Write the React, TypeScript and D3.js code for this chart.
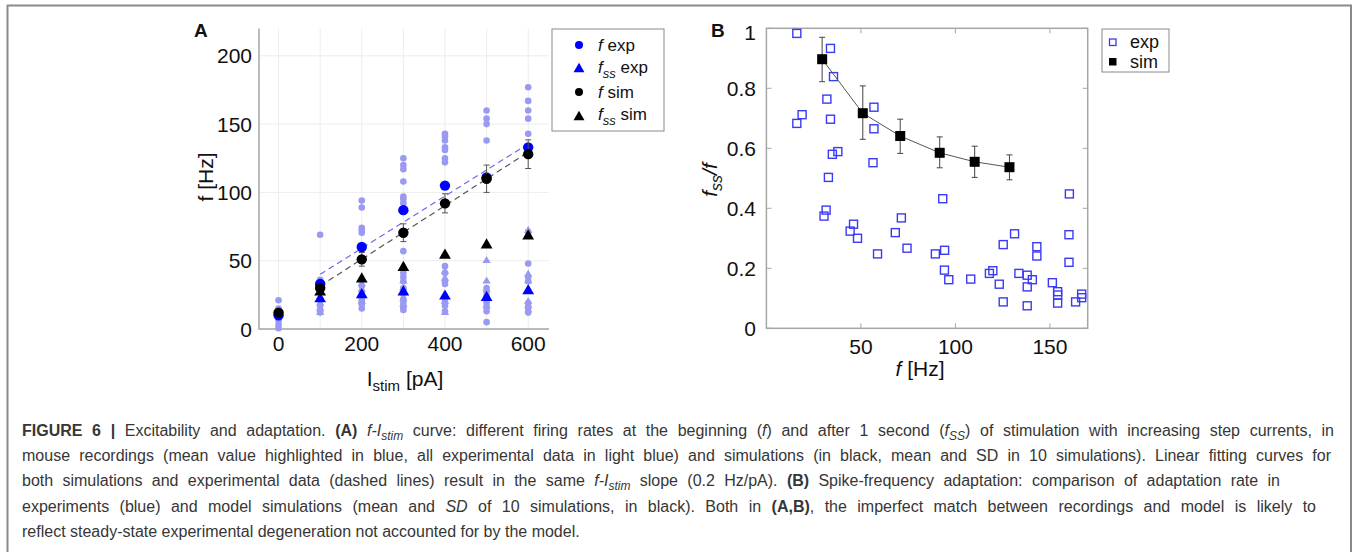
import React, { useLayoutEffect, useRef } from "react";
import * as d3 from "d3";

// ---------- Panel A data ----------
const stimLevels = [0, 100, 200, 300, 400, 500, 600];
const fExpMean = [10, 33, 60, 87, 105, 111, 133];
const fssExpMean = [null, 22, 25, 27, 24, 23, 28];
const fSimMean = [12, 30, 51, 70.5, 92, 110, 128];
const fSimSD = [1, 3, 5, 6.5, 7, 10, 10.5];
const fssSimMean = [null, 27, 36.5, 45, 54, 61.5, 68];

const fExpAll = [
  [21, 15, 9, 6, 3, 0.5],
  [69, 36, 31, 27, 22, 17, 14, 12],
  [94, 89, 74, 72.5, 70.5, 31.5, 27, 22, 20, 18, 15],
  [125, 120, 117, 108, 97, 95, 92, 57, 41, 38, 35, 30, 26, 22, 19, 16, 14],
  [143, 141, 138, 133, 131, 125, 122, 46, 41, 35, 33, 20, 17, 13],
  [160, 154, 150, 138, 30, 27, 24, 19, 16, 13, 5],
  [177, 167, 160, 154, 143, 71, 48, 38, 35, 19, 16, 13, 12],
];
const fssExpAll = [
  [],
  [19, 15, 12],
  [33, 29, 25, 20],
  [35, 30, 27, 22, 18],
  [42, 37, 20, 12],
  [50, 35, 29, 22, 17],
  [72, 40, 35, 20, 17],
];
const fitExp = { x: [100, 600], y: [40, 135.5] };
const fitSim = { x: [100, 600], y: [31.5, 129.5] };

const xGridA = [0, 100, 200, 300, 400, 500, 600];
const xTicksA = [0, 200, 400, 600];
const yTicksA = [0, 50, 100, 150, 200];

// ---------- Panel B data ----------
const expF = [16.1, 33.9, 35.5, 32, 18.9, 16.1, 33.9, 56.9, 56.9, 34.9, 37.8, 56.4, 32.8, 93.3, 160.3,
  31.6, 30.5, 46.1, 44.3, 48.2, 58.8, 68.2, 71.4, 74.4, 89.4, 94.3, 94.2, 96.5, 108.1, 118, 119.8,
  123.2, 125.3, 125.3, 131.3, 133.6, 138, 138, 138, 140.7, 143.1, 143.1, 151.3, 154.1, 154.1, 154.1,
  160.1, 160.1, 163.6, 166.8, 166.8];
const expRatio = [0.983, 0.933, 0.839, 0.764, 0.712, 0.683, 0.697, 0.737, 0.665, 0.58, 0.589, 0.552, 0.503, 0.432, 0.448,
  0.394, 0.374, 0.347, 0.324, 0.3, 0.248, 0.319, 0.368, 0.267, 0.248, 0.26, 0.194, 0.162, 0.164, 0.183, 0.192,
  0.147, 0.279, 0.088, 0.315, 0.183, 0.177, 0.138, 0.075, 0.162, 0.272, 0.241, 0.152, 0.122, 0.111, 0.084,
  0.312, 0.22, 0.088, 0.114, 0.102];
const simF = [29.5, 51, 70.8, 91.7, 110.2, 128.6];
const simRatio = [0.897, 0.717, 0.641, 0.585, 0.555, 0.537];
const simLo = [0.822, 0.63, 0.583, 0.535, 0.503, 0.495];
const simHi = [0.97, 0.808, 0.697, 0.638, 0.607, 0.578];

const xTicksB = [50, 100, 150];
const yTicksB = [0, 0.2, 0.4, 0.6, 0.8, 1];
const yTickLabelsB = ["0", "0.2", "0.4", "0.6", "0.8", "1"];

// ---------- Caption ----------
type Seg = { t: string; b?: boolean; i?: boolean; sub?: boolean };
const captionLines: Seg[][] = [
  [
    { t: "FIGURE 6 | ", b: true },
    { t: "Excitability and adaptation. " },
    { t: "(A) ", b: true },
    { t: "f-I", i: true },
    { t: "stim", i: true, sub: true },
    { t: " curve: different firing rates at the beginning (" },
    { t: "f", i: true },
    { t: ") and after 1 second (" },
    { t: "f", i: true },
    { t: "SS", i: true, sub: true },
    { t: ") of stimulation with increasing step currents, in" },
  ],
  [
    { t: "mouse recordings (mean value highlighted in blue, all experimental data in light blue) and simulations (in black, mean and SD in 10 simulations). Linear fitting curves for" },
  ],
  [
    { t: "both simulations and experimental data (dashed lines) result in the same " },
    { t: "f-I", i: true },
    { t: "stim", i: true, sub: true },
    { t: " slope (0.2 Hz/pA). " },
    { t: "(B)", b: true },
    { t: " Spike-frequency adaptation: comparison of adaptation rate in" },
  ],
  [
    { t: "experiments (blue) and model simulations (mean and " },
    { t: "SD", i: true },
    { t: " of 10 simulations, in black). Both in " },
    { t: "(A,B)", b: true },
    { t: ", the imperfect match between recordings and model is likely to" },
  ],
  [{ t: "reflect steady-state experimental degeneration not accounted for by the model." }],
];
const captionWidths = [1312, 1309, 1258, 1294, 0];
const CAP_SCALE = 1.0;

const FONT = "'Liberation Sans', Arial, Helvetica, sans-serif";
const BLUE = "#0000ff";
const LIGHT = "#9a9af2";

function CaptionLine({ segs, y, width }: { segs: Seg[]; y: number; width: number }) {
  const ref = useRef<SVGTextElement>(null);
  useLayoutEffect(() => {
    const el = ref.current;
    if (!el || !width) return;
    el.removeAttribute("word-spacing");
    const natural = el.getComputedTextLength();
    const spaces = segs.map((s) => s.t).join("").split(" ").length - 1;
    const target = width / CAP_SCALE;
    if (spaces > 0) el.setAttribute("word-spacing", String((target - natural) / spaces));
  }, [segs, width]);
  let off = 0;
  return (
    <text ref={ref} x={0} y={y} fontSize={16} fill="#363636">
      {segs.map((s, k) => {
        const target = s.sub ? 4 : 0;
        const dy = target - off;
        off = target;
        return (
          <tspan key={k} dy={dy || undefined} fontWeight={s.b ? "bold" : undefined}
            fontStyle={s.i ? "italic" : undefined} fontSize={s.sub ? 12 : undefined}>
            {s.t}
          </tspan>
        );
      })}
    </text>
  );
}

export default function App() {
  // Panel A scales
  const xA = d3.scaleLinear().domain([-47, 650]).range([259, 549]);
  const yA = d3.scaleLinear().domain([0, 220]).range([329, 28.5]);
  // Panel B scales
  const xB = d3.scaleLinear().domain([0, 170]).range([766.4, 1087.7]);
  const yB = d3.scaleLinear().domain([0, 1]).range([328.3, 28.3]);

  const triBig = d3.symbol().type(d3.symbolTriangle).size(60)()!;
  const triSmall = d3.symbol().type(d3.symbolTriangle).size(30)()!;
  const triLeg = d3.symbol().type(d3.symbolTriangle).size(52)()!;

  const simLine = d3.line<number>().x((_, i) => xB(simF[i])).y((d) => yB(d))(simRatio)!;

  const axisGray = "#a6a6a6";

  return (
    <svg width={1358} height={552} style={{ position: "absolute", left: 0, top: 0, fontFamily: FONT }}>
      <rect x={0} y={0} width={1358} height={552} fill="#fff" />
      {/* frame */}
      <path d="M7.5,560 V5.5 H1351 V560" fill="none" stroke="#8a8a8a" strokeWidth={2} />

      {/* ---------- Panel A ---------- */}
      <g>
        {xGridA.map((t) => (
          <line key={"gx" + t} x1={xA(t)} x2={xA(t)} y1={yA(0)} y2={yA(220)} stroke="#ededed" strokeWidth={1} />
        ))}
        {yTicksA.map((t) => (
          <line key={"gy" + t} x1={xA(-47)} x2={xA(650)} y1={yA(t)} y2={yA(t)} stroke="#ededed" strokeWidth={1} />
        ))}
        <path d={`M${xA(-47)},${yA(220)} V${yA(0)} H${xA(650)}`} fill="none" stroke={axisGray} strokeWidth={1.5} />
        {yTicksA.map((t) => (
          <text key={"ly" + t} x={252} y={yA(t)} dy="0.36em" textAnchor="end" fontSize={21} fill="#111">{t}</text>
        ))}
        {xTicksA.map((t) => (
          <text key={"lx" + t} x={xA(t)} y={351} textAnchor="middle" fontSize={21} fill="#111">{t}</text>
        ))}
        <text x={405} y={386} textAnchor="middle" fontSize={21} fill="#111">
          I<tspan dy={5} fontSize={15}>stim</tspan><tspan dy={-5}> [pA]</tspan>
        </text>
        <text transform="translate(213,177) rotate(-90)" textAnchor="middle" fontSize={21} fill="#111">f [Hz]</text>
        <text x={194} y={37} fontSize={19} fontWeight="bold" fill="#111">A</text>

        {/* all experimental data */}
        {fssExpAll.map((vals, i) =>
          vals.map((v, j) => (
            <path key={`lt${i}-${j}`} d={triSmall} transform={`translate(${xA(stimLevels[i])},${yA(v)})`} fill={LIGHT} />
          ))
        )}
        {fExpAll.map((vals, i) =>
          vals.map((v, j) => (
            <circle key={`lc${i}-${j}`} cx={xA(stimLevels[i])} cy={yA(v)} r={3.3} fill={LIGHT} />
          ))
        )}

        {/* fits */}
        <line x1={xA(fitExp.x[0])} y1={yA(fitExp.y[0])} x2={xA(fitExp.x[1])} y2={yA(fitExp.y[1])}
          stroke="#6a6af0" strokeWidth={1.2} strokeDasharray="6,4" />
        <line x1={xA(fitSim.x[0])} y1={yA(fitSim.y[0])} x2={xA(fitSim.x[1])} y2={yA(fitSim.y[1])}
          stroke="#555" strokeWidth={1.2} strokeDasharray="6,4" />

        {/* means */}
        {fssExpMean.map((v, i) =>
          v == null ? null : (
            <path key={"bt" + i} d={triBig} transform={`translate(${xA(stimLevels[i])},${yA(v)})`} fill={BLUE} />
          )
        )}
        {fssSimMean.map((v, i) =>
          v == null ? null : (
            <path key={"kt" + i} d={triBig} transform={`translate(${xA(stimLevels[i])},${yA(v)})`} fill="#000" />
          )
        )}
        {fExpMean.map((v, i) => (
          <circle key={"bc" + i} cx={xA(stimLevels[i])} cy={yA(v)} r={5.2} fill={BLUE} />
        ))}
        {fSimMean.map((v, i) => {
          const x = xA(stimLevels[i]);
          const lo = yA(v - fSimSD[i]);
          const hi = yA(v + fSimSD[i]);
          return (
            <g key={"kc" + i}>
              <line x1={x} x2={x} y1={lo} y2={hi} stroke="#555" strokeWidth={1} />
              <line x1={x - 3} x2={x + 3} y1={lo} y2={lo} stroke="#555" strokeWidth={1} />
              <line x1={x - 3} x2={x + 3} y1={hi} y2={hi} stroke="#555" strokeWidth={1} />
              <circle cx={x} cy={yA(v)} r={5.2} fill="#000" />
            </g>
          );
        })}

        {/* legend A */}
        <rect x={552} y={29} width={112} height={102} fill="#fff" stroke="#8a8a8a" strokeWidth={1} />
        <circle cx={579} cy={45} r={4} fill={BLUE} />
        <path d={triLeg} transform="translate(579,69)" fill={BLUE} />
        <circle cx={579} cy={92} r={4} fill="#000" />
        <path d={triLeg} transform="translate(579,117)" fill="#000" />
        <text x={598} y={51} fontSize={17} fill="#111"><tspan fontStyle="italic">f</tspan> exp</text>
        <text x={598} y={73} fontSize={17} fill="#111">
          <tspan fontStyle="italic">f</tspan><tspan fontStyle="italic" fontSize={13} dy={5}>ss</tspan><tspan dy={-5}> exp</tspan>
        </text>
        <text x={598} y={98} fontSize={17} fill="#111"><tspan fontStyle="italic">f</tspan> sim</text>
        <text x={598} y={120} fontSize={17} fill="#111">
          <tspan fontStyle="italic">f</tspan><tspan fontStyle="italic" fontSize={13} dy={5}>ss</tspan><tspan dy={-5}> sim</tspan>
        </text>
      </g>

      {/* ---------- Panel B ---------- */}
      <g>
        <rect x={xB(0)} y={yB(1)} width={xB(170) - xB(0)} height={yB(0) - yB(1)} fill="none" stroke={axisGray} strokeWidth={1.5} />
        {xTicksB.map((t) => (
          <g key={"bx" + t}>
            <line x1={xB(t)} x2={xB(t)} y1={yB(0)} y2={yB(0) - 5} stroke={axisGray} />
            <line x1={xB(t)} x2={xB(t)} y1={yB(1)} y2={yB(1) + 5} stroke={axisGray} />
            <text x={xB(t)} y={354} textAnchor="middle" fontSize={21} fill="#111">{t}</text>
          </g>
        ))}
        {yTicksB.map((t, k) => (
          <g key={"by" + t}>
            <line x1={xB(0)} x2={xB(0) + 5} y1={yB(t)} y2={yB(t)} stroke={axisGray} />
            <line x1={xB(170)} x2={xB(170) - 5} y1={yB(t)} y2={yB(t)} stroke={axisGray} />
            <text x={756} y={yB(t) + (t === 1 ? 4 : 0)} dy="0.36em" textAnchor="end" fontSize={21} fill="#111">{yTickLabelsB[k]}</text>
          </g>
        ))}
        <text x={920} y={376} textAnchor="middle" fontSize={21} fill="#111">
          <tspan fontStyle="italic">f</tspan> [Hz]
        </text>
        <text transform="translate(717,180) rotate(-90)" textAnchor="middle" fontSize={21} fill="#111" fontStyle="italic">
          f<tspan fontSize={16} dy={5}>ss</tspan><tspan dy={-5}>/f</tspan>
        </text>
        <text x={711} y={37} fontSize={19} fontWeight="bold" fill="#111">B</text>

        {expF.map((f, i) => (
          <rect key={"e" + i} x={xB(f) - 4} y={yB(expRatio[i]) - 4} width={8} height={8} fill="none" stroke="#3a3af5" strokeWidth={1.4} />
        ))}
        <path d={simLine} fill="none" stroke="#555" strokeWidth={1} />
        {simF.map((f, i) => {
          const x = xB(f);
          return (
            <g key={"s" + i}>
              <line x1={x} x2={x} y1={yB(simLo[i])} y2={yB(simHi[i])} stroke="#444" strokeWidth={1} />
              <line x1={x - 3} x2={x + 3} y1={yB(simLo[i])} y2={yB(simLo[i])} stroke="#444" />
              <line x1={x - 3} x2={x + 3} y1={yB(simHi[i])} y2={yB(simHi[i])} stroke="#444" />
              <rect x={x - 5} y={yB(simRatio[i]) - 5} width={10} height={10} fill="#000" />
            </g>
          );
        })}

        {/* legend B */}
        <rect x={1102} y={29} width={67} height={43} fill="#fff" stroke="#8a8a8a" strokeWidth={1} />
        <rect x={1109.5} y={39} width={6.5} height={6.5} fill="none" stroke="#3a3af5" strokeWidth={1.3} />
        <rect x={1109} y={58} width={7.5} height={7.5} fill="#000" />
        <text x={1130} y={48} fontSize={18} fill="#111">exp</text>
        <text x={1130} y={68} fontSize={18} fill="#111">sim</text>
      </g>

      {/* ---------- Caption ---------- */}
      <g transform={`translate(22,0) scale(${CAP_SCALE},1)`}>
        {captionLines.map((segs, i) => (
          <CaptionLine key={i} segs={segs} y={436 + i * 25.2} width={captionWidths[i]} />
        ))}
      </g>
    </svg>
  );
}
